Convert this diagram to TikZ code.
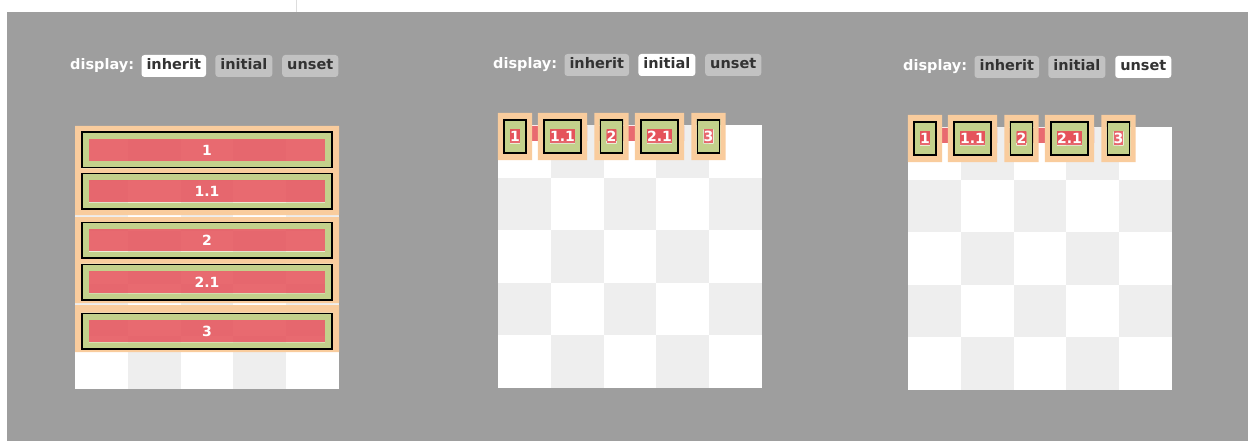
\documentclass[tikz,border=0pt]{standalone}
\usepackage{fontspec}
\setmainfont{DejaVu Sans}
\usepackage{tikz}
\usetikzlibrary{positioning,fit,backgrounds}
\definecolor{pagegray}{HTML}{9E9E9E}
\definecolor{rulegray}{HTML}{DDDDDD}
\definecolor{tilegray}{HTML}{EEEEEE}
\definecolor{marginorange}{HTML}{F9CC9D}
\definecolor{paddinggreen}{HTML}{C3D08B}
\definecolor{itemred}{HTML}{E55058}
\definecolor{btngray}{HTML}{C2C2C2}
\definecolor{btntext}{HTML}{333333}

\begin{document}
\begin{tikzpicture}[x=1pt, y=-1pt,
  hdr/.style={font=\fontsize{14.5}{17}\selectfont\bfseries, text=white, inner sep=0pt,
    text height=10.5pt, text depth=3pt},
  btn/.style={font=\fontsize{14.5}{17}\selectfont\bfseries, text=btntext, fill=#1,
    rounded corners=3pt, inner xsep=5pt, inner ysep=0pt, minimum height=22pt,
    text height=10.5pt, text depth=3pt},
  cell/.style={fill=itemred, fill opacity=0.85, text opacity=1, text=white,
    font=\fontsize{14}{16}\selectfont\bfseries, inner sep=0pt},
  blockcell/.style={cell, minimum width=236pt, minimum height=22pt},
  inlinecell/.style={cell, inner xsep=0pt, minimum height=14pt},
  boxline/.style={draw=black, line width=1.6pt, inner sep=0pt},
]
\useasboundingbox (0,0) rectangle (1251,441);
\begin{pgfonlayer}{background}
  \fill[white] (0,0) rectangle (1251,441);
  \fill[pagegray] (7,12) rectangle (1248,441);
  \draw[rulegray] (296,0) -- (296,12);
\end{pgfonlayer}

\foreach \px/\py/\fa/\fb/\fc [count=\k] in {75/126/white/btngray/btngray,
    498/125/btngray/white/btngray, 908/127/btngray/btngray/white} {
  \begin{scope}[shift={(\px,\py)}]
    \begin{pgfonlayer}{background}
      \fill[white] (0,0) rectangle (264,263);
      \foreach \r in {0,...,4}
        \foreach \c in {0,...,4} {
          \pgfmathtruncatemacro\odd{mod(\r+\c,2)}
          \ifnum\odd=1 \fill[tilegray] (\c*52.8,\r*52.6) rectangle +(52.8,52.6); \fi
        }
    \end{pgfonlayer}
    \node[hdr, anchor=west] (head\k) at (-5,-60) {display:};
    \node[btn=\fa, right=7pt of head\k] (head\k-a) {inherit};
    \node[btn=\fb, right=9pt of head\k-a] (head\k-b) {initial};
    \node[btn=\fc, right=9.5pt of head\k-b] (head\k-c) {unset};
  \end{scope}
}

\begin{scope}[shift={(75,126)}]
  \node[blockcell] (c1) at (132,24) {1};
  \node[blockcell, below=19pt of c1] (c11) {1.1};
  \node[blockcell, below=26.5pt of c11] (c2) {2};
  \node[blockcell, below=19.5pt of c2] (c21) {2.1};
  \node[blockcell, below=26.5pt of c21] (c3) {3};
  \foreach \n in {c1,c11,c2,c21,c3} {
    \node[boxline, fit=(\n), inner xsep=7pt, inner ysep=6.5pt] (\n-box) {};
    \begin{pgfonlayer}{background}
      \fill[paddinggreen, even odd rule] (\n-box.north west) rectangle (\n-box.south east)
        (\n.north west) rectangle (\n.south east);
    \end{pgfonlayer}
  }
  \begin{pgfonlayer}{background}
    \fill[marginorange, even odd rule] (0,0) rectangle (264,89) (0,91) rectangle (264,177)
      (0,179) rectangle (264,226)
      (c1-box.north west) rectangle (c1-box.south east)
      (c11-box.north west) rectangle (c11-box.south east)
      (c2-box.north west) rectangle (c2-box.south east)
      (c21-box.north west) rectangle (c21-box.south east)
      (c3-box.north west) rectangle (c3-box.south east);
  \end{pgfonlayer}
\end{scope}

\foreach \px/\py [count=\k from 2] in {498/125, 908/127} {
  \begin{scope}[shift={(\px,\py)}]
    \begin{pgfonlayer}{background}
      \fill[itemred, fill opacity=0.85] (0,1) rectangle (89,16) (97,1) rectangle (186,16);
    \end{pgfonlayer}
    \foreach \x/\lbl/\n in {17/1/i1, 64.5/1.1/i11, 113.5/2/i2, 161.5/2.1/i21, 210.5/3/i3} {
      \node[inlinecell] (p\k\n) at (\x,11.5) {\lbl};
      \node[boxline, fit=(p\k\n), inner xsep=6pt, inner ysep=9.5pt] (p\k\n-box) {};
      \node[fit=(p\k\n-box), inner xsep=5pt, inner ysep=6pt] (p\k\n-mar) {};
      \begin{pgfonlayer}{background}
        \fill[marginorange, even odd rule] (p\k\n-mar.north west) rectangle (p\k\n-mar.south east)
          (p\k\n-box.north west) rectangle (p\k\n-box.south east);
        \fill[paddinggreen, even odd rule] (p\k\n-box.north west) rectangle (p\k\n-box.south east)
          (p\k\n.north west) rectangle (p\k\n.south east);
      \end{pgfonlayer}
    }
  \end{scope}
}
\end{tikzpicture}
\end{document}
